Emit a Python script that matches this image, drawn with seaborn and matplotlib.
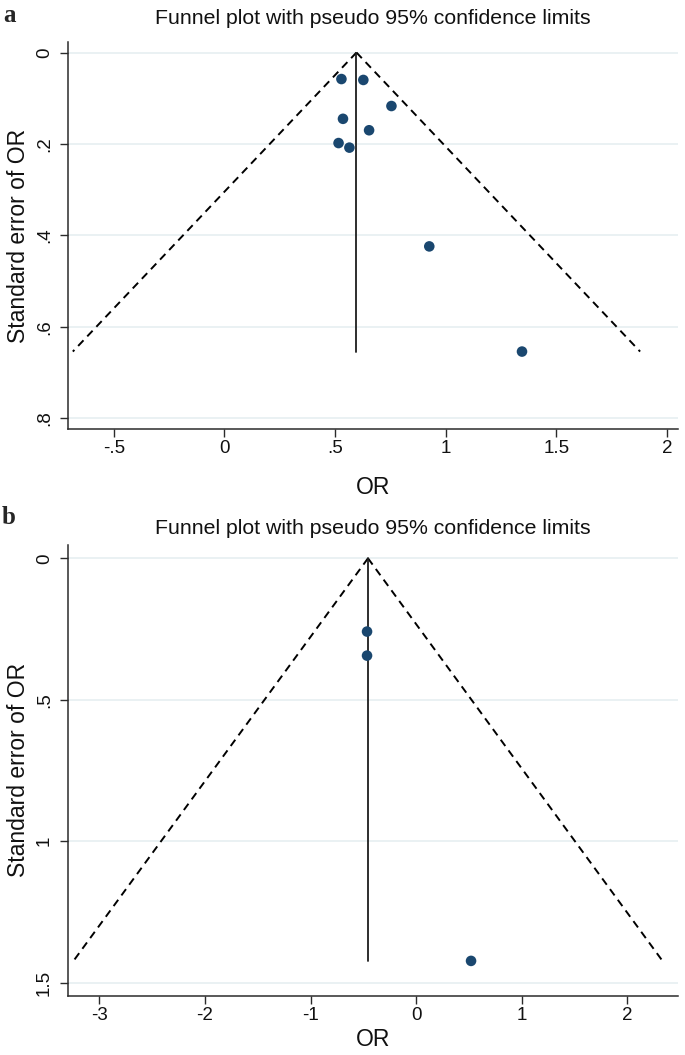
import numpy as np
import pandas as pd
import matplotlib
matplotlib.use("Agg")
import matplotlib.pyplot as plt
import seaborn as sns

# ---------------- data ----------------
# Panel a
a_or = [0.529, 0.628, 0.755, 0.536, 0.654, 0.516, 0.565, 0.926, 1.345]
a_se = [0.058, 0.060, 0.117, 0.145, 0.170, 0.198, 0.208, 0.424, 0.654]
a_pooled = 0.597
a_xticks = [-0.5, 0, 0.5, 1, 1.5, 2]
a_xticklabels = ["-.5", "0", ".5", "1", "1.5", "2"]
a_yticks = [0, 0.2, 0.4, 0.6, 0.8]
a_yticklabels = ["0", ".2", ".4", ".6", ".8"]

# Panel b
b_or = [-0.465, -0.465, 0.52]
b_se = [0.259, 0.344, 1.423]
b_pooled = -0.456
b_xticks = [-3, -2, -1, 0, 1, 2]
b_xticklabels = ["-3", "-2", "-1", "0", "1", "2"]
b_yticks = [0, 0.5, 1, 1.5]
b_yticklabels = ["0", ".5", "1", "1.5"]

title = "Funnel plot with pseudo 95% confidence limits"
xlabel = "OR"
ylabel = "Standard error of OR"

# ---------------- style ----------------
sns.set_theme(style="white")
FONT = ["Liberation Sans", "DejaVu Sans"]
plt.rcParams["font.family"] = FONT

W, H = 685, 1055
fig = plt.figure(figsize=(W / 100, H / 100), dpi=100)

def px_axes(left, top, right, bottom):
    return fig.add_axes([left / W, 1 - bottom / H, (right - left) / W, (bottom - top) / H])

MARKER = "#1a476f"
GRID = "#e8f0f2"
AXC = "#2b2b2b"

def funnel(ax, xs, ses, pooled, xlim, ylim, xticks, xtl, yticks, ytl):
    ax.set_facecolor("white")
    for y in yticks:
        ax.axhline(y, color=GRID, lw=1.3, zorder=0)
    semax = max(ses)
    se_line = np.array([0.0, semax])
    # pseudo 95% limits
    ax.plot(pooled - 1.96 * se_line, se_line, color="black", lw=1.4,
            linestyle=(0, (4.0, 2.8)), zorder=2)
    ax.plot(pooled + 1.96 * se_line, se_line, color="black", lw=1.4,
            linestyle=(0, (4.0, 2.8)), zorder=2)
    # pooled estimate
    ax.plot([pooled, pooled], se_line, color="#1e1e1e", lw=1.3, zorder=2)
    df = pd.DataFrame({"or": xs, "se": ses})
    sns.scatterplot(data=df, x="or", y="se", ax=ax, color=MARKER, s=58,
                    edgecolor="none", zorder=3, legend=False)
    ax.set_xlim(*xlim)
    ax.set_ylim(*ylim)
    ax.set_xticks(xticks)
    ax.set_xticklabels(xtl)
    ax.set_yticks(yticks)
    ax.set_yticklabels(ytl)
    ax.set_xlabel("")
    ax.set_ylabel("")
    for s in ["top", "right"]:
        ax.spines[s].set_visible(False)
    for s in ["left", "bottom"]:
        ax.spines[s].set_color(AXC)
        ax.spines[s].set_linewidth(1.1)
    ax.tick_params(axis="both", which="major", direction="out", length=5.5,
                   width=1.0, color=AXC, labelsize=13.5, labelcolor="#111111")
    ax.tick_params(axis="x", pad=2.5, bottom=True)
    ax.tick_params(axis="y", pad=5, left=True)
    for lab in ax.get_yticklabels():
        lab.set_rotation(90)
        lab.set_va("center")
        lab.set_ha("right")

# Panel a
axa = px_axes(67.7, 42, 678, 429.3)
funnel(axa, a_or, a_se, a_pooled, (-0.708, 2.05), (0.824, -0.023),
       a_xticks, a_xticklabels, a_yticks, a_yticklabels)

# Panel b
axb = px_axes(67.7, 545, 678, 995.7)
funnel(axb, b_or, b_se, b_pooled, (-3.30, 2.48), (1.546, -0.047),
       b_xticks, b_xticklabels, b_yticks, b_yticklabels)

def ftext(x, y, s, **kw):
    fig.text(x / W, 1 - y / H, s, **kw)

cx = (67.7 + 678) / 2
# titles
ftext(cx, 19, title, ha="center", va="center", fontsize=15.3, color="#111111")
ftext(cx, 529, title, ha="center", va="center", fontsize=15.3, color="#111111")
# x labels
ftext(cx, 488, xlabel, ha="center", va="center", fontsize=16.5, color="#111111")
ftext(cx, 1040, xlabel, ha="center", va="center", fontsize=16.5, color="#111111")
# y labels
ftext(19, (42 + 429.3) / 2, ylabel, ha="center", va="center", rotation=90,
      fontsize=16.5, color="#111111")
ftext(19, (545 + 995.7) / 2, ylabel, ha="center", va="center", rotation=90,
      fontsize=16.5, color="#111111")
# panel letters
ftext(10, 15, "a", ha="center", va="center", fontsize=18, fontweight="bold",
      family=["Liberation Serif", "DejaVu Serif"])
ftext(9, 517, "b", ha="center", va="center", fontsize=18, fontweight="bold",
      family=["Liberation Serif", "DejaVu Serif"])

fig.savefig("out.png", dpi=100, facecolor="white")
